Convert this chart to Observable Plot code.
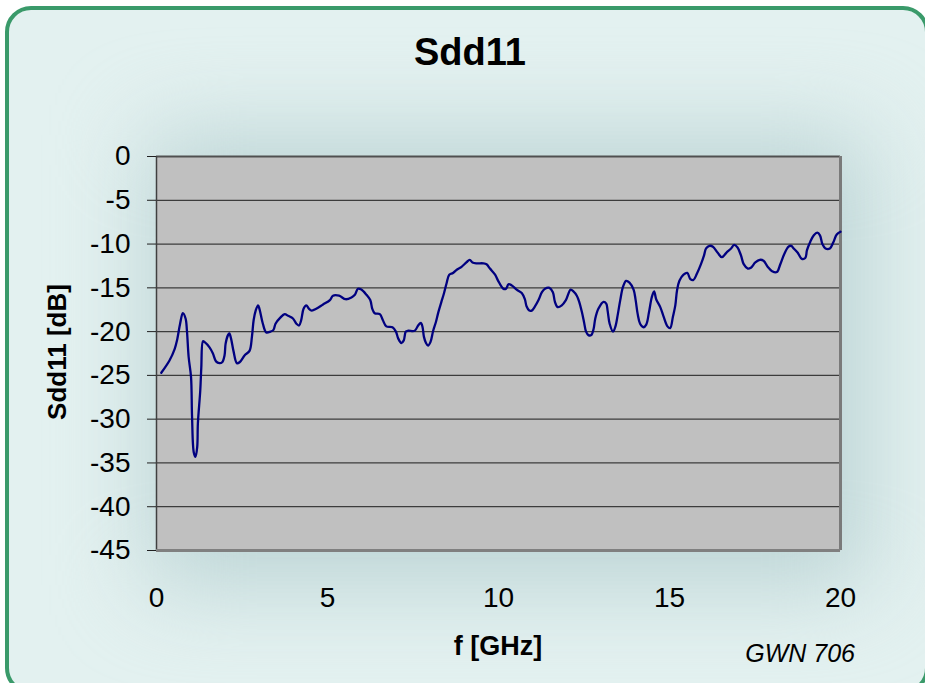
<!DOCTYPE html>
<html>
<head>
<meta charset="utf-8">
<script src="https://cdn.jsdelivr.net/npm/d3@7"></script>
<script src="https://cdn.jsdelivr.net/npm/@observablehq/plot@0.6"></script>
<style>
  html, body { margin: 0; padding: 0; background: #ffffff; overflow: hidden; }
  #wrap { position: relative; width: 925px; height: 683px; overflow: hidden; font-family: "Liberation Sans", Arial, sans-serif; }
  #box { position: absolute; left: 5px; top: 6px; width: 916px; height: 680px; border: 4px solid #3a9a6a; border-radius: 26px; background: #e3f1f0; overflow: hidden; }
  #halo { position: absolute; left: 140px; top: 125px; width: 720px; height: 450px; background: #bcd4d5; filter: blur(45px); }
  #title { position: absolute; left: 0; width: 940px; top: 31px; text-align: center; font-size: 38px; font-weight: bold; color: #000; }
  #chart { position: absolute; left: 0; top: 0; }
  #ylab { position: absolute; left: 57px; top: 352px; transform: translate(-50%, -50%) rotate(-90deg); font-size: 26px; font-weight: bold; white-space: nowrap; }
  #xlab { position: absolute; left: 498px; top: 631px; transform: translateX(-50%); font-size: 27px; font-weight: bold; white-space: nowrap; }
  #note { position: absolute; right: 70px; top: 639px; font-size: 25px; font-style: italic; white-space: nowrap; }
</style>
</head>
<body>
<div id="wrap">
  <div id="box"><div id="halo"></div></div>
  <div id="chart"></div>
  <div id="title">Sdd11</div>
  <div id="ylab">Sdd11 [dB]</div>
  <div id="xlab">f [GHz]</div>
  <div id="note">GWN 706</div>
</div>
<script>
const freqGHz = [
  0.14,0.38,0.53,0.60,0.69,0.77,0.85,0.89,0.94,1.01,1.04,1.09,1.14,1.19,1.21,1.28,1.31,1.36,1.41,1.55,
  1.65,1.74,1.84,1.92,1.99,2.02,2.09,2.13,2.18,2.25,2.35,2.43,2.58,2.72,2.79,2.84,2.90,2.97,3.01,3.11,
  3.21,3.33,3.42,3.48,3.62,3.75,3.85,3.99,4.09,4.17,4.23,4.30,4.38,4.46,4.54,4.67,4.87,5.07,5.16,5.34,
  5.53,5.70,5.80,5.89,5.99,6.14,6.25,6.31,6.38,6.53,6.62,6.72,6.90,7.00,7.07,7.16,7.23,7.29,7.36,7.55,
  7.65,7.73,7.78,7.82,7.88,7.94,8.01,8.09,8.17,8.24,8.33,8.40,8.48,8.56,8.67,8.79,8.92,9.06,9.16,9.24,
  9.36,9.55,9.65,9.75,9.90,9.99,10.14,10.22,10.29,10.38,10.53,10.68,10.77,10.82,10.90,10.97,11.07,11.17,11.27,11.36,
  11.49,11.59,11.65,11.73,11.85,11.97,12.11,12.19,12.29,12.36,12.44,12.50,12.56,12.63,12.71,12.78,12.83,12.92,13.07,13.15,
  13.19,13.25,13.35,13.42,13.49,13.56,13.64,13.73,13.83,13.95,14.01,14.07,14.14,14.24,14.32,14.40,14.48,14.55,14.61,14.73,
  14.82,14.94,15.02,15.10,15.17,15.22,15.29,15.41,15.52,15.61,15.70,15.80,15.92,16.01,16.07,16.17,16.27,16.41,16.53,16.66,
  16.80,16.89,16.99,17.09,17.17,17.29,17.38,17.51,17.64,17.75,17.87,18.00,18.14,18.24,18.36,18.48,18.56,18.63,18.75,18.87,
  18.97,19.02,19.12,19.22,19.32,19.40,19.47,19.56,19.69,19.79,19.89,20.00
];
const sdd11dB = [
  -24.7,-23.3,-22.0,-21.0,-19.1,-17.9,-18.5,-19.9,-22.9,-25.2,-29.8,-33.8,-34.3,-33.2,-30.5,-26.7,-24.1,-21.1,-21.2,-21.8,
  -22.5,-23.4,-23.6,-23.5,-22.7,-21.4,-20.4,-20.2,-20.8,-22.2,-23.6,-23.5,-22.7,-22.2,-20.6,-18.7,-17.6,-17.0,-17.4,-19.1,
  -20.1,-20.0,-19.8,-19.1,-18.4,-18.0,-18.2,-18.5,-19.1,-19.3,-18.7,-17.4,-17.0,-17.4,-17.6,-17.4,-16.9,-16.4,-15.9,-15.9,
  -16.3,-16.1,-15.8,-15.1,-15.2,-15.8,-16.4,-17.4,-17.9,-18.0,-18.7,-19.4,-19.5,-20.0,-20.8,-21.3,-21.0,-20.0,-19.9,-19.9,
  -19.3,-19.0,-19.5,-20.6,-21.3,-21.6,-21.2,-19.9,-18.9,-17.8,-16.6,-15.7,-14.5,-13.5,-13.3,-12.9,-12.6,-12.1,-11.8,-12.1,
  -12.2,-12.2,-12.3,-12.8,-13.5,-14.2,-15.1,-15.1,-14.6,-14.7,-15.2,-15.6,-16.3,-17.1,-17.6,-17.6,-17.1,-16.4,-15.5,-15.1,
  -15.0,-15.5,-16.6,-17.2,-17.0,-16.4,-15.2,-15.4,-15.9,-16.6,-17.8,-18.9,-20.0,-20.4,-20.4,-19.7,-18.5,-17.4,-16.6,-16.8,
  -17.6,-19.1,-20.0,-19.4,-18.0,-16.4,-14.9,-14.2,-14.4,-15.2,-16.4,-18.0,-19.1,-19.5,-19.2,-17.8,-16.1,-15.4,-16.3,-17.2,
  -18.2,-19.4,-19.6,-18.3,-17.0,-15.3,-14.2,-13.5,-13.3,-14.0,-14.1,-13.4,-12.3,-11.3,-10.5,-10.2,-10.3,-11.0,-11.5,-11.0,
  -10.5,-10.1,-10.4,-11.3,-12.3,-12.8,-12.7,-12.1,-11.8,-11.9,-12.6,-13.1,-13.2,-12.3,-11.1,-10.3,-10.2,-10.5,-11.0,-11.7,
  -11.6,-10.7,-9.7,-9.0,-8.7,-9.0,-10.0,-10.5,-10.5,-9.8,-8.9,-8.6
];
const xTicks = [0, 5, 10, 15, 20];
const yTicks = [0, -5, -10, -15, -20, -25, -30, -35, -40, -45];
const gridLines = [-5, -10, -15, -20, -25, -30, -35, -40];

const data = freqGHz.map((f, i) => ({f, v: sdd11dB[i]}));

const chart = Plot.plot({
  width: 925,
  height: 683,
  marginLeft: 156,
  marginRight: 85,
  marginTop: 156,
  marginBottom: 133,
  style: {background: "transparent", fontFamily: "'Liberation Sans', Arial, sans-serif", fontSize: "28px", color: "#000"},
  x: {domain: [0, 20], label: null},
  y: {domain: [-45, 0], label: null},
  marks: [
    Plot.frame({fill: "#c0c0c0", stroke: null}),
    Plot.ruleY(gridLines, {stroke: "#3c3c3c", strokeWidth: 1.3}),
    Plot.ruleY([0], {stroke: "#505050", strokeWidth: 2}),
    Plot.ruleX([0], {stroke: "#404040", strokeWidth: 1.5}),
    Plot.ruleX([20], {stroke: "#7a7a7a", strokeWidth: 3}),
    Plot.ruleY([-45], {stroke: "#808080", strokeWidth: 3}),
    Plot.axisX({ticks: xTicks, tickFormat: d => String(d), tickSize: 0, tickPadding: 37, fontSize: 28, label: null}),
    Plot.axisY({ticks: yTicks, tickFormat: d => String(d), tickSize: 9, tickPadding: 17, fontSize: 28, label: null, stroke: "#202020"}),
    Plot.line(data, {x: "f", y: "v", stroke: "#000080", strokeWidth: 2.3, curve: "catmull-rom"})
  ]
});
document.getElementById("chart").appendChild(chart);
</script>
</body>
</html>
